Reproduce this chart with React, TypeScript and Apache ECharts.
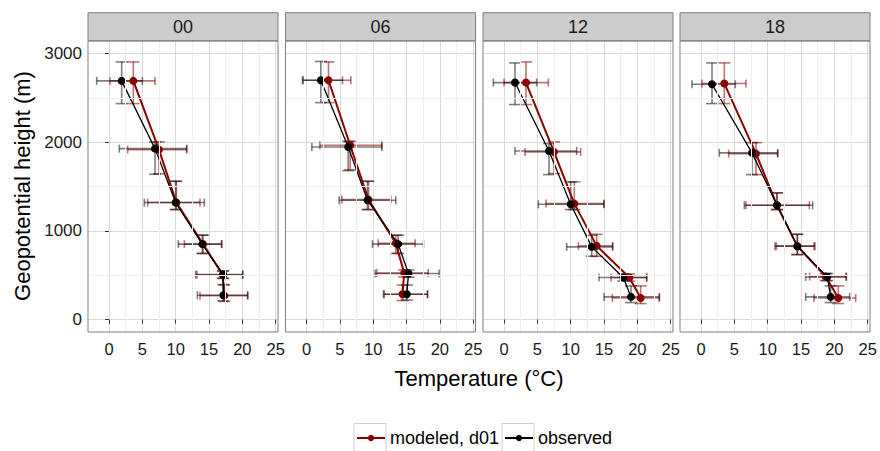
import React, { useEffect, useRef } from "react";
import * as echarts from "echarts";

const panelLabels = ["00", "06", "12", "18"];
const modeledName = "modeled, d01";
const observedName = "observed";
const xTickValues = [0, 5, 10, 15, 20, 25];
const yTickValues = [0, 1000, 2000, 3000];
const xMinorValues = [2.5, 7.5, 12.5, 17.5, 22.5];
const yMinorValues = [500, 1500, 2500];

// observed (rows = panels 00, 06, 12, 18; columns = levels top -> bottom)
const obsTemp = [
  [1.9, 6.9, 10.0, 14.0, 17.15, 17.15],
  [2.15, 6.25, 9.15, 13.75, 15.3, 15.05],
  [1.65, 6.75, 10.0, 13.15, 17.9, 19.05],
  [1.65, 7.65, 11.4, 14.45, 18.95, 19.45],
];
const obsHeight = [
  [2692, 1928, 1320, 851, 508, 275],
  [2699, 1947, 1346, 851, 520, 286],
  [2673, 1902, 1301, 820, 474, 256],
  [2654, 1880, 1289, 828, 481, 256],
];
const obsTempLo = [
  [-1.85, 1.55, 5.3, 10.4, 13.0, 13.25],
  [-0.6, 0.8, 4.9, 9.9, 10.3, 11.55],
  [-1.6, 1.65, 5.15, 9.4, 14.25, 15.0],
  [-1.35, 2.75, 6.5, 11.1, 15.7, 15.7],
];
const obsTempHi = [
  [5.0, 11.65, 14.3, 16.9, 20.05, 20.8],
  [5.4, 11.3, 13.4, 17.55, 19.9, 18.15],
  [4.9, 10.9, 15.0, 16.3, 21.4, 23.3],
  [5.15, 11.5, 16.75, 16.95, 21.8, 22.3],
];
const obsHeightLo = [
  [2436, 1639, 1241, 746, 465, 210],
  [2447, 1680, 1241, 746, 478, 220],
  [2425, 1635, 1241, 714, 435, 192],
  [2436, 1635, 1241, 733, 440, 192],
];
const obsHeightHi = [
  [2906, 2004, 1560, 952, 549, 395],
  [2911, 2010, 1560, 952, 560, 390],
  [2895, 1985, 1553, 951, 515, 380],
  [2895, 1996, 1429, 962, 520, 380],
];

// modeled, d01
const modTemp = [
  [3.65, 7.5, 10.1, 14.1, 17.05, 17.3],
  [3.3, 6.55, 9.3, 13.4, 14.65, 14.4],
  [3.3, 7.5, 10.55, 13.9, 18.8, 20.5],
  [3.5, 8.25, 11.4, 14.45, 18.7, 20.6],
];
const modHeight = [
  [2692, 1917, 1320, 851, 505, 270],
  [2699, 1966, 1353, 860, 525, 286],
  [2673, 1891, 1308, 831, 474, 244],
  [2662, 1872, 1289, 828, 485, 244],
];
const modTempLo = [
  [0.15, 2.8, 5.8, 11.3, 13.2, 13.65],
  [-0.5, 2.0, 5.3, 10.75, 10.55, 11.65],
  [0.0, 3.15, 6.3, 11.15, 16.05, 16.25],
  [0.15, 4.15, 6.75, 11.3, 16.3, 16.95],
];
const modTempHi = [
  [6.9, 11.65, 13.65, 16.9, 20.05, 20.8],
  [6.65, 11.3, 12.65, 16.3, 18.25, 18.15],
  [6.65, 11.5, 15.0, 16.3, 21.4, 23.3],
  [6.75, 11.5, 16.25, 17.1, 21.8, 23.2],
];
const modHeightLo = [
  [2436, 1645, 1241, 746, 465, 205],
  [2447, 1690, 1241, 746, 480, 215],
  [2425, 1647, 1241, 714, 435, 181],
  [2436, 1635, 1241, 733, 440, 181],
];
const modHeightHi = [
  [2906, 2004, 1560, 952, 549, 390],
  [2906, 2010, 1560, 952, 560, 390],
  [2906, 2004, 1553, 962, 515, 380],
  [2895, 1996, 1429, 962, 520, 380],
];

const FONT = "'Liberation Sans', Arial, sans-serif";
const RED = "#8B0000";
const BLACK = "#000000";
const panelLeft = [88, 285.5, 483, 680];
const panelWidth = 190;
const panelTop = 41;
const panelHeight = 291;

function errRows(t: number[], h: number[], tl: number[], th: number[], hl: number[], hh: number[]) {
  return t.map((v, i) => [v, h[i], tl[i], th[i], hl[i], hh[i]]);
}

function makeErrorRender(color: string) {
  return (params: any, api: any) => {
    const x = api.value(0);
    const y = api.value(1);
    const a = api.coord([api.value(2), y]);
    const b = api.coord([api.value(3), y]);
    const c = api.coord([x, api.value(4)]);
    const d = api.coord([x, api.value(5)]);
    const hc = 4;
    const vc = 6;
    const style = { stroke: color, lineWidth: 1.6 };
    const ln = (x1: number, y1: number, x2: number, y2: number) => ({
      type: "line",
      shape: { x1, y1, x2, y2 },
      style,
    });
    return {
      type: "group",
      children: [
        ln(a[0], a[1], b[0], b[1]),
        ln(a[0], a[1] - hc, a[0], a[1] + hc),
        ln(b[0], b[1] - hc, b[0], b[1] + hc),
        ln(c[0], c[1], d[0], d[1]),
        ln(c[0] - vc, c[1], c[0] + vc, c[1]),
        ln(d[0] - vc, d[1], d[0] + vc, d[1]),
      ],
    };
  };
}

export default function App() {
  const ref = useRef<HTMLDivElement>(null);
  useEffect(() => {
    if (!ref.current) return;
    const chart = echarts.init(ref.current, null, { renderer: "svg" });
    const grids: any[] = [];
    const xAxes: any[] = [];
    const yAxes: any[] = [];
    const series: any[] = [];
    const graphics: any[] = [];

    panelLabels.forEach((lab, p) => {
      grids.push({
        left: panelLeft[p],
        top: panelTop,
        width: panelWidth,
        height: panelHeight,
        containLabel: false,
      });
      xAxes.push({
        type: "value",
        gridIndex: p,
        min: -3.15,
        max: 25.35,
        splitNumber: 5,
        axisLine: { show: false },
        axisTick: {
          show: true,
          length: 4,
          lineStyle: { color: "#333333" },
          customValues: xTickValues,
        },
        axisLabel: {
          show: true,
          customValues: xTickValues,
          fontSize: 16.5,
          color: "#1a1a1a",
          fontFamily: FONT,
          margin: 8,
          formatter: (v: number) => String(v),
        },
        splitLine: { show: true, lineStyle: { color: "#DADADA", width: 1 } },
      });
      yAxes.push({
        type: "value",
        gridIndex: p,
        min: -140,
        max: 3142,
        splitNumber: 3,
        axisLine: { show: false },
        axisTick: {
          show: p === 0,
          length: 4,
          lineStyle: { color: "#333333" },
          customValues: yTickValues,
        },
        axisLabel: {
          show: p === 0,
          customValues: yTickValues,
          fontSize: 17,
          color: "#1a1a1a",
          fontFamily: FONT,
          margin: 6,
          formatter: (v: number) => String(v),
        },
        splitLine: { show: true, lineStyle: { color: "#DADADA", width: 1 } },
      });

      // minor grid
      series.push({
        type: "line",
        name: "minor-grid",
        xAxisIndex: p,
        yAxisIndex: p,
        data: [],
        z: 1,
        silent: true,
        markLine: {
          silent: true,
          symbol: ["none", "none"],
          label: { show: false },
          animation: false,
          lineStyle: { color: "#EFEFEF", width: 1, type: "solid" },
          data: [
            ...xMinorValues.map((v) => ({ xAxis: v })),
            ...yMinorValues.map((v) => ({ yAxis: v })),
          ],
        },
      });

      series.push({
        type: "custom",
        name: "modeled-err",
        xAxisIndex: p,
        yAxisIndex: p,
        encode: { x: 0, y: 1 },
        z: 2,
        renderItem: makeErrorRender("rgba(139,0,0,0.55)"),
        data: errRows(modTemp[p], modHeight[p], modTempLo[p], modTempHi[p], modHeightLo[p], modHeightHi[p]),
      });
      series.push({
        type: "custom",
        name: "observed-err",
        xAxisIndex: p,
        yAxisIndex: p,
        encode: { x: 0, y: 1 },
        z: 2,
        renderItem: makeErrorRender("rgba(0,0,0,0.5)"),
        data: errRows(obsTemp[p], obsHeight[p], obsTempLo[p], obsTempHi[p], obsHeightLo[p], obsHeightHi[p]),
      });
      series.push({
        type: "line",
        name: modeledName,
        xAxisIndex: p,
        yAxisIndex: p,
        z: 3,
        symbol: "circle",
        symbolSize: 8,
        showSymbol: true,
        itemStyle: { color: RED },
        lineStyle: { color: RED, width: 2 },
        data: modTemp[p].map((t, i) => [t, modHeight[p][i]]),
      });
      series.push({
        type: "line",
        name: observedName,
        xAxisIndex: p,
        yAxisIndex: p,
        z: 4,
        symbol: "circle",
        symbolSize: 8,
        showSymbol: true,
        itemStyle: { color: BLACK },
        lineStyle: { color: BLACK, width: 1.3 },
        data: obsTemp[p].map((t, i) => [t, obsHeight[p][i]]),
      });

      // strip
      graphics.push({
        type: "rect",
        shape: { x: panelLeft[p], y: 12.7, width: panelWidth, height: 28 },
        style: { fill: "#CCCCCC", stroke: "#7F7F7F", lineWidth: 1 },
        z: 10,
      });
      graphics.push({
        type: "text",
        x: panelLeft[p] + panelWidth / 2,
        y: 27,
        style: {
          text: lab,
          fontSize: 18,
          fontFamily: FONT,
          fill: "#1a1a1a",
          align: "center",
          verticalAlign: "middle",
        },
        z: 11,
      });
      // panel border
      graphics.push({
        type: "rect",
        shape: { x: panelLeft[p], y: panelTop, width: panelWidth, height: panelHeight },
        style: { fill: "none", stroke: "#7F7F7F", lineWidth: 1 },
        z: 10,
        silent: true,
      });
    });

    // axis titles
    graphics.push({
      type: "text",
      x: 22,
      y: 186,
      rotation: Math.PI / 2,
      style: {
        text: "Geopotential height (m)",
        fontSize: 22,
        fontFamily: FONT,
        fill: "#000",
        align: "center",
        verticalAlign: "middle",
      },
    });
    graphics.push({
      type: "text",
      x: 479,
      y: 378,
      style: {
        text: "Temperature (\u00B0C)",
        fontSize: 22,
        fontFamily: FONT,
        fill: "#000",
        align: "center",
        verticalAlign: "middle",
      },
    });
    // legend key boxes
    [354, 502].forEach((x) => {
      graphics.push({
        type: "rect",
        shape: { x, y: 423.5, width: 32, height: 29 },
        style: { fill: "#fff", stroke: "#CCCCCC", lineWidth: 1 },
        z: 0,
      });
    });

    const legendCommon = {
      orient: "horizontal",
      padding: 0,
      itemWidth: 28,
      itemHeight: 8,
      top: 426,
      textStyle: { fontSize: 18, fontFamily: FONT, color: "#000", lineHeight: 24 },
      selectedMode: false,
    };

    chart.setOption({
      animation: false,
      backgroundColor: "#ffffff",
      grid: grids,
      xAxis: xAxes,
      yAxis: yAxes,
      series,
      graphic: graphics,
      legend: [
        { ...legendCommon, left: 356, data: [modeledName] },
        { ...legendCommon, left: 504, data: [observedName] },
      ],
    });
    return () => chart.dispose();
  }, []);
  return (
    <div
      ref={ref}
      style={{ position: "fixed", left: 0, top: 0, width: 880, height: 451, background: "#fff" }}
    />
  );
}
